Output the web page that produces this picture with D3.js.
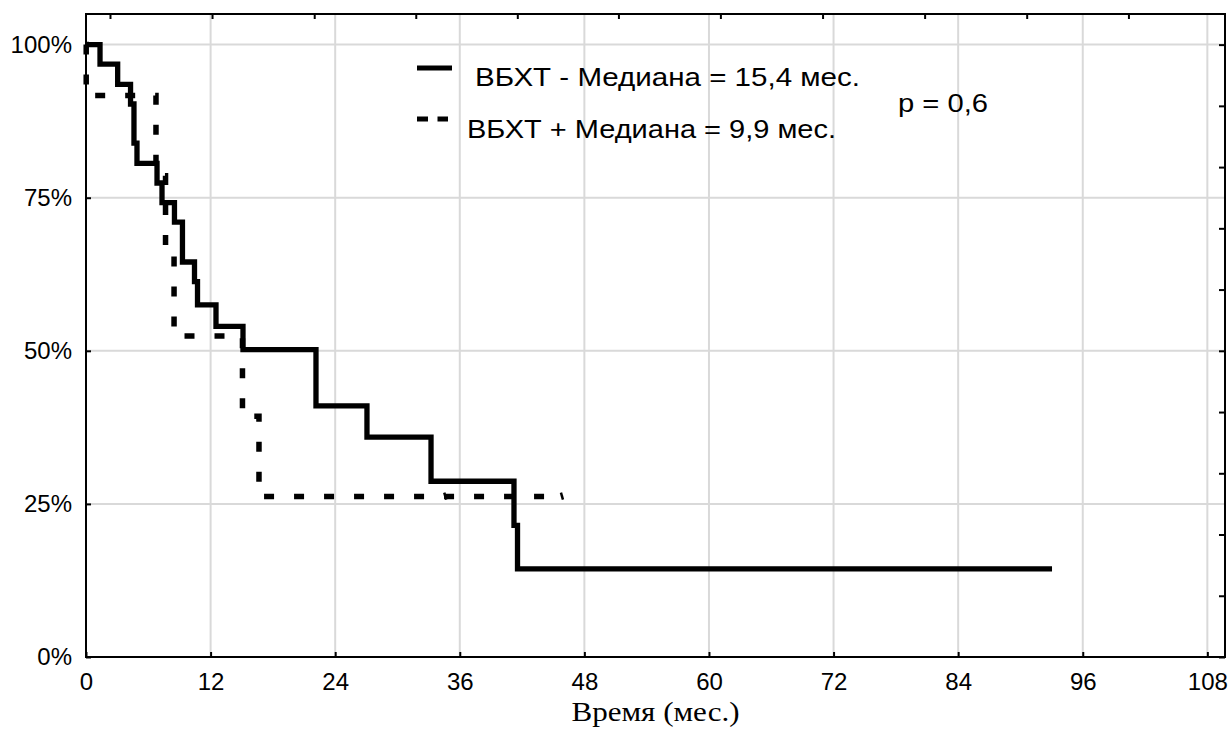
<!DOCTYPE html>
<html>
<head>
<meta charset="utf-8">
<script src="https://cdn.jsdelivr.net/npm/d3@7"></script>
<style>
  html, body { margin: 0; padding: 0; background: #fff; }
  svg { display: block; }
</style>
</head>
<body>
<svg id="chart" width="1232" height="745"></svg>
<script>
// ---- Data ----
const solidTimes = [0, 1.35, 3.05, 4.29, 4.62, 4.91, 6.84, 7.32, 8.52, 9.29, 10.45, 10.74, 12.52, 15.12, 22.15, 27.06, 33.23, 41.22, 41.56, 93.04];
const solidSurv  = [100, 96.8, 93.5, 90.3, 83.9, 80.6, 77.4, 74.2, 71.0, 64.5, 61.3, 57.5, 54.0, 50.2, 41.0, 35.9, 28.7, 21.5, 14.4, 14.4];
const dashTimes  = [0, 0.02, 6.74, 7.66, 8.48, 15.07, 16.66, 45.84];
const dashSurv   = [100, 91.7, 78.6, 65.5, 52.4, 39.3, 26.2, 26.2];
const dashCensor = [34.6, 45.84];

const xTicks = [0, 12, 24, 36, 48, 60, 72, 84, 96, 108];
const yTicks = [0, 25, 50, 75, 100];
const topTickMonths = [2.31, 12.14, 21.98, 31.76, 41.54, 51.28, 61.1, 70.94, 80.77, 90.6, 100.4];
const rightTicks = [0, 10, 20, 30, 40, 50, 60, 70, 80, 90, 100];

const legendLabels = ["ВБХТ - Медиана = 15,4 мес.", "ВБХТ + Медиана = 9,9 мес."];
const pLabel = "p = 0,6";
const xTitle = "Время (мес.)";

// ---- Layout ----
const L = 86, R = 1225, T = 14, B = 657;
const svg = d3.select("#chart");
const x = d3.scaleLinear().domain([0, 109.7]).range([L, R]);
const y = d3.scaleLinear().domain([0, 105]).range([B, T]);

const font = "'Liberation Sans', Arial, sans-serif";

// gridlines
svg.append("g").selectAll("line").data(xTicks.filter(d => d > 0)).join("line")
  .attr("x1", d => x(d)).attr("x2", d => x(d)).attr("y1", T).attr("y2", B)
  .attr("stroke", "#d9d9d9").attr("stroke-width", 2);
svg.append("g").selectAll("line").data(yTicks.filter(d => d > 0)).join("line")
  .attr("x1", L).attr("x2", R).attr("y1", d => y(d)).attr("y2", d => y(d))
  .attr("stroke", "#d9d9d9").attr("stroke-width", 2);

// axes
const xAxis = svg.append("g").attr("transform", `translate(0,${B})`)
  .call(d3.axisBottom(x).tickValues(xTicks).tickSizeInner(-5).tickSizeOuter(0).tickPadding(16));
const yAxis = svg.append("g").attr("transform", `translate(${L},0)`)
  .call(d3.axisLeft(y).tickValues(yTicks).tickFormat(d => d + "%").tickSizeInner(-5).tickSizeOuter(0).tickPadding(14));
const topAxis = svg.append("g").attr("transform", `translate(0,${T})`)
  .call(d3.axisTop(x).tickValues(topTickMonths).tickFormat("").tickSizeInner(-5).tickSizeOuter(0));
const rightAxis = svg.append("g").attr("transform", `translate(${R},0)`)
  .call(d3.axisRight(y).tickValues(rightTicks).tickFormat("").tickSizeInner(-6).tickSizeOuter(0));

[xAxis, yAxis, topAxis, rightAxis].forEach(g => {
  g.select(".domain").remove();
  g.selectAll(".tick line").attr("stroke", "#000").attr("stroke-width", 2);
  g.selectAll("text").attr("font-family", font).attr("font-size", 24).attr("fill", "#000");
});

// frame
svg.append("rect").attr("x", L).attr("y", T).attr("width", R - L).attr("height", B - T)
  .attr("fill", "none").attr("stroke", "#000").attr("stroke-width", 2);

// curves
const line = d3.line().x(d => x(d[0])).y(d => y(d[1])).curve(d3.curveStepAfter);
const dashPts = dashTimes.map((t, i) => [t, dashSurv[i]]);
const solidPts = solidTimes.map((t, i) => [t, solidSurv[i]]);

svg.append("path").attr("d", line(dashPts)).attr("fill", "none")
  .attr("stroke", "#000").attr("stroke-width", 5.5).attr("stroke-dasharray", "10,20");
// small censor marks on the dashed curve
svg.append("g").selectAll("line").data(dashCensor).join("line")
  .attr("x1", d => x(d) - 1).attr("x2", d => x(d) + 1)
  .attr("y1", y(26.2) - 4).attr("y2", y(26.2) + 3)
  .attr("stroke", "#000").attr("stroke-width", 2.5);
svg.append("path").attr("d", line(solidPts)).attr("fill", "none")
  .attr("stroke", "#000").attr("stroke-width", 5.3).attr("stroke-linejoin", "miter");

// legend
svg.append("line").attr("x1", 417).attr("x2", 452).attr("y1", 68).attr("y2", 68)
  .attr("stroke", "#000").attr("stroke-width", 5);
svg.append("line").attr("x1", 417).attr("x2", 448).attr("y1", 119).attr("y2", 119)
  .attr("stroke", "#000").attr("stroke-width", 5).attr("stroke-dasharray", "11,9.5");
svg.append("text").attr("x", 475).attr("y", 86).attr("font-family", font).attr("font-size", 26)
  .attr("textLength", 385).attr("lengthAdjust", "spacingAndGlyphs").text(legendLabels[0]);
svg.append("text").attr("x", 467).attr("y", 137.5).attr("font-family", font).attr("font-size", 26)
  .attr("textLength", 369).attr("lengthAdjust", "spacingAndGlyphs").text(legendLabels[1]);
svg.append("text").attr("x", 898).attr("y", 112).attr("font-family", font).attr("font-size", 26)
  .attr("textLength", 90).attr("lengthAdjust", "spacingAndGlyphs").text(pLabel);

// x title
svg.append("text").attr("x", (L + R) / 2).attr("y", 721).attr("text-anchor", "middle")
  .attr("font-family", "'Liberation Serif', 'Times New Roman', serif").attr("font-size", 28)
  .attr("textLength", 168).attr("lengthAdjust", "spacingAndGlyphs")
  .text(xTitle);
</script>
</body>
</html>
